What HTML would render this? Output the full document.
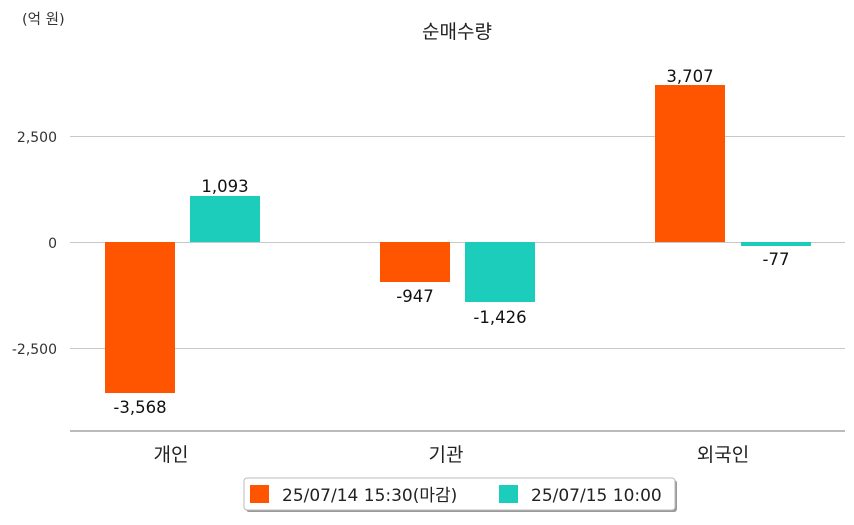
<!DOCTYPE html>
<html><head><meta charset="utf-8"><style>
body{margin:0;background:#fff;}
svg text{font-family:"DejaVu Sans","Noto Sans CJK KR",sans-serif;}
</style></head><body>
<svg width="854" height="520" viewBox="0 0 854 520" xmlns="http://www.w3.org/2000/svg">
<rect width="854" height="520" fill="#fff"/>
<text x="22" y="24" font-size="14.5" fill="#333">(억 원)</text>
<text x="457" y="38" font-size="19" fill="#222" text-anchor="middle">순매수량</text>
<g stroke="#c8c8c8" stroke-width="1">
<line x1="70" y1="136.5" x2="845" y2="136.5"/>
<line x1="70" y1="242.5" x2="845" y2="242.5"/>
<line x1="70" y1="348.5" x2="845" y2="348.5"/>
</g>
<line x1="70" y1="431" x2="845" y2="431" stroke="#777" stroke-width="1"/>
<g font-size="14" fill="#333" text-anchor="end">
<text x="57" y="142">2,500</text>
<text x="57" y="248">0</text>
<text x="57" y="354">-2,500</text>
</g>
<g fill="#ff5500">
<rect x="105" y="242" width="70" height="151"/>
<rect x="380" y="242" width="70" height="40"/>
<rect x="655" y="85" width="70" height="157"/>
</g>
<g fill="#1dcdbb">
<rect x="190" y="196" width="70" height="46"/>
<rect x="465" y="242" width="70" height="60"/>
<rect x="741" y="242" width="70" height="4"/>
</g>
<g font-size="16.5" fill="#111" text-anchor="middle">
<text x="140" y="413">-3,568</text>
<text x="225" y="192">1,093</text>
<text x="415" y="302">-947</text>
<text x="500" y="323">-1,426</text>
<text x="690" y="82">3,707</text>
<text x="776" y="265">-77</text>
</g>
<g font-size="19" fill="#222" text-anchor="middle">
<text x="171" y="461">개인</text>
<text x="446" y="461">기관</text>
<text x="723" y="461">외국인</text>
</g>
<rect x="246" y="480" width="431" height="32" rx="3" fill="#999"/>
<rect x="244" y="478" width="431" height="32" rx="3" fill="#fff" stroke="#bbb"/>
<rect x="250" y="485" width="19" height="18" fill="#ff5500"/>
<rect x="499" y="485" width="19" height="18" fill="#1dcdbb"/>
<g font-size="17" fill="#222">
<text x="282" y="501">25/07/14 15:30(마감)</text>
<text x="531" y="501">25/07/15 10:00</text>
</g>
</svg>
</body></html>
